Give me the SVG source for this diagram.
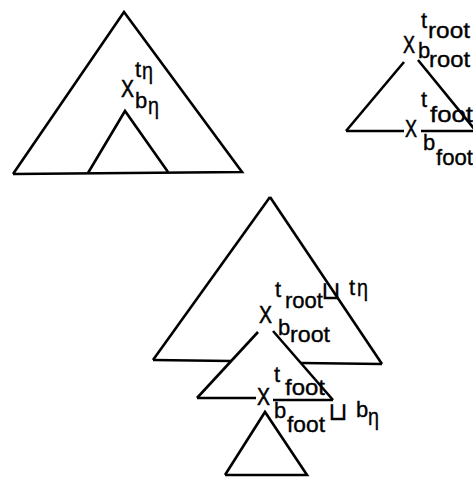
<svg xmlns="http://www.w3.org/2000/svg" width="473" height="477" viewBox="0 0 473 477">
<style>
.ln{fill:none;stroke:#000;stroke-width:2.6;stroke-linecap:butt;stroke-linejoin:miter}
text{font-family:"Liberation Sans","DejaVu Sans",sans-serif;font-size:22px;fill:#000;stroke:#000;stroke-width:0.35}
.x{font-size:23px;stroke-width:0.5}
.eta{font-size:24px}
.cup{font-family:"DejaVu Sans",sans-serif;font-size:25px;stroke-width:0.3}
</style>
<rect width="473" height="477" fill="#fff"/>
<g id="tree-eta">
<polyline class="ln" points="13,174 124,12 242,172 13,174"/>
<polyline class="ln" points="88,173 125,111 168,172"/>
<text class="x" x="121" y="97" textLength="13" lengthAdjust="spacingAndGlyphs">X</text>
<text x="135" y="77">t</text>
<text class="eta" x="142" y="79" textLength="11" lengthAdjust="spacingAndGlyphs">η</text>
<text x="135" y="108">b</text>
<text class="eta" x="148" y="114" textLength="11" lengthAdjust="spacingAndGlyphs">η</text>
</g>
<g id="aux-tree">
<line class="ln" x1="404" y1="62" x2="346" y2="131"/>
<line class="ln" x1="418" y1="60" x2="476" y2="131"/>
<line class="ln" x1="346" y1="131" x2="404" y2="131"/>
<line class="ln" x1="421" y1="131" x2="473" y2="131"/>
<text x="421" y="28">t</text>
<text x="428" y="38" textLength="42" lengthAdjust="spacingAndGlyphs">root</text>
<text class="x" x="403" y="53" textLength="12" lengthAdjust="spacingAndGlyphs">X</text>
<text x="418" y="58">b</text>
<text x="429" y="67" textLength="41" lengthAdjust="spacingAndGlyphs">root</text>
<text x="421" y="107">t</text>
<text x="430" y="122" textLength="43" lengthAdjust="spacingAndGlyphs">foot</text>
<text class="x" x="405" y="137" textLength="12" lengthAdjust="spacingAndGlyphs">X</text>
<text x="423" y="150">b</text>
<text x="436" y="165" textLength="37" lengthAdjust="spacingAndGlyphs">foot</text>
</g>
<g id="result-tree">
<g id="upper">
<line class="ln" x1="270" y1="197" x2="153" y2="360"/>
<line class="ln" x1="270" y1="197" x2="382" y2="364"/>
<line class="ln" x1="153" y1="360" x2="231" y2="361"/>
<line class="ln" x1="301" y1="363" x2="382" y2="364"/>
</g>
<g id="middle">
<line class="ln" x1="258" y1="332" x2="197" y2="398"/>
<line class="ln" x1="273" y1="331" x2="333" y2="400"/>
<line class="ln" x1="197" y1="398" x2="256" y2="398"/>
<line class="ln" x1="273" y1="400" x2="333" y2="400"/>
</g>
<g id="lower">
<polyline class="ln" points="225,475 265,412 307,475 225,475"/>
</g>
<text x="275" y="297">t</text>
<text x="285" y="308" textLength="38" lengthAdjust="spacingAndGlyphs">root</text>
<text class="cup" x="321" y="299">⊔</text>
<text x="349" y="295">t</text>
<text class="eta" x="357" y="296" textLength="11" lengthAdjust="spacingAndGlyphs">η</text>
<text class="x" x="259" y="323" textLength="13" lengthAdjust="spacingAndGlyphs">X</text>
<text x="278" y="335">b</text>
<text x="290" y="342" textLength="40" lengthAdjust="spacingAndGlyphs">root</text>
<text class="x" x="257" y="405" textLength="13" lengthAdjust="spacingAndGlyphs">X</text>
<text x="274" y="382">t</text>
<text x="285" y="395" textLength="40" lengthAdjust="spacingAndGlyphs">foot</text>
<text x="274" y="418">b</text>
<text x="287" y="432" textLength="38" lengthAdjust="spacingAndGlyphs">foot</text>
<text class="cup" x="328" y="420">⊔</text>
<text x="356" y="417">b</text>
<text class="eta" x="368" y="425" textLength="11" lengthAdjust="spacingAndGlyphs">η</text>
</g>
</svg>
